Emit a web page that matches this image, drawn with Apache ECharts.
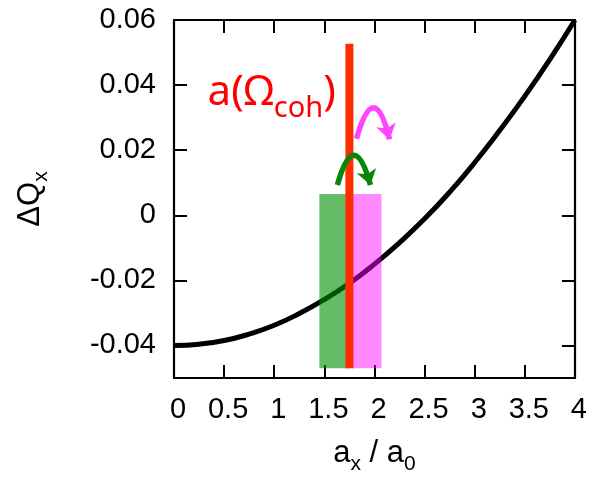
<!DOCTYPE html>
<html><head><meta charset="utf-8">
<script src="https://cdn.jsdelivr.net/npm/echarts@6/dist/echarts.min.js"></script>
<style>html,body{margin:0;padding:0;background:#fff}#c{width:590px;height:480px}</style>
</head><body><div id="c"></div>
<script>
// ---- data ----
const xTicks = [0, 0.5, 1, 1.5, 2, 2.5, 3, 3.5, 4];
const yTicks = [-0.04, -0.02, 0, 0.02, 0.04, 0.06];
const curveX = [0, 0.25, 0.5, 0.75, 1, 1.25, 1.5, 1.75, 2, 2.25, 2.5, 2.75, 3, 3.25, 3.5, 3.75, 4];
const curveY = [-0.0400, -0.0396, -0.0385, -0.0365, -0.0338, -0.0302, -0.0259, -0.0209, -0.0150, -0.0084, -0.0011, 0.0071, 0.0162, 0.0261, 0.0366, 0.0479, 0.0600];
const aCoh = 1.75;
const redLineY = [-0.047, 0.0527];
const greenBand = [1.45, 1.75];
const pinkBand = [1.75, 2.07];
const bandY = [-0.047, 0.0065];
const magentaArrow = [[1.82, 0.0235], [2.15, 0.0233]];
const greenArrow = [[1.63, 0.0093], [1.96, 0.0093]];
const cohLabelAt = [0.33, 0.0375];

const FONT = 'Liberation Sans';
const chart = echarts.init(document.getElementById('c'), null, {renderer: 'canvas'});

const tickStyle = {show: true, inside: true, length: 13, lineStyle: {color: '#000', width: 2}};
const lineStyleAxis = {show: true, onZero: false, lineStyle: {color: '#000', width: 2.2}};
const nameRich = {
  m: {fontSize: 31, lineHeight: 31, fontFamily: FONT, color: '#000', verticalAlign: 'top'},
  s: {fontSize: 21, lineHeight: 21, fontFamily: FONT, color: '#000', verticalAlign: 'top', padding: [16, 0, 0, 0]}
};

const bands = [
  {range: greenBand, color: 'rgba(0,143,0,0.6)'},
  {range: pinkBand, color: 'rgba(255,0,255,0.46)'}
];

chart.setOption({
  animation: false,
  backgroundColor: '#fff',
  grid: {left: 174, right: 12, top: 20, bottom: 95},
  xAxis: [{
    type: 'value', min: xTicks[0], max: xTicks[xTicks.length - 1], interval: 0.5, position: 'bottom',
    axisLine: lineStyleAxis, axisTick: tickStyle, splitLine: {show: false},
    axisLabel: {fontSize: 29, fontFamily: FONT, color: '#000', margin: 17, padding: [0, 0, 0, 8]},
    name: '{m|a}{s|x}{m| / a}{s|0}', nameLocation: 'middle', nameGap: 60,
    nameTextStyle: {rich: nameRich}
  }, {
    type: 'value', min: xTicks[0], max: xTicks[xTicks.length - 1], interval: 0.5, position: 'top',
    axisLine: lineStyleAxis, axisTick: tickStyle, splitLine: {show: false}, axisLabel: {show: false}
  }],
  yAxis: [{
    type: 'value', min: -0.05, max: 0.06, interval: 0.01, position: 'left',
    axisLine: lineStyleAxis,
    axisTick: Object.assign({}, tickStyle, {customValues: yTicks}),
    splitLine: {show: false},
    axisLabel: {fontSize: 29, fontFamily: FONT, color: '#000', margin: 18, customValues: yTicks,
      formatter: v => String(+v.toFixed(2))},
    name: '{m|ΔQ}{s|x}', nameLocation: 'middle', nameGap: 128,
    nameTextStyle: {rich: nameRich}
  }, {
    type: 'value', min: -0.05, max: 0.06, interval: 0.01, position: 'right',
    axisLine: lineStyleAxis,
    axisTick: Object.assign({}, tickStyle, {customValues: yTicks}),
    splitLine: {show: false}, axisLabel: {show: false}
  }],
  series: [
    {
      type: 'line', z: 1, smooth: true, showSymbol: false, symbol: 'none', silent: true,
      data: curveX.map((x, i) => [x, curveY[i]]),
      lineStyle: {color: '#000', width: 5}
    },
    {
      type: 'custom', z: 2, silent: true,
      data: bands.map(b => [b.range[0], b.range[1], bandY[0], bandY[1]]),
      encode: {x: [0, 1], y: [2, 3]},
      renderItem: (params, api) => {
        const p0 = api.coord([api.value(0), api.value(3)]);
        const p1 = api.coord([api.value(1), api.value(2)]);
        return {type: 'rect', shape: {x: p0[0], y: p0[1], width: p1[0] - p0[0], height: p1[1] - p0[1]},
          style: {fill: bands[params.dataIndex].color}};
      }
    },
    {
      type: 'line', z: 3, showSymbol: false, symbol: 'none', silent: true,
      data: redLineY.map(y => [aCoh, y]),
      lineStyle: {color: '#ff2d00', width: 8, cap: 'butt'}
    },
    {
      type: 'lines', coordinateSystem: 'cartesian2d', z: 4, silent: true,
      symbol: ['none', 'arrow'], symbolSize: 15,
      lineStyle: {color: '#ff44ff', width: 5.5, curveness: 1.9, opacity: 1},
      data: [{coords: magentaArrow}]
    },
    {
      type: 'lines', coordinateSystem: 'cartesian2d', z: 4, silent: true,
      symbol: ['none', 'arrow'], symbolSize: 15,
      lineStyle: {color: '#0a870a', width: 5.5, curveness: 1.8, opacity: 1},
      data: [{coords: greenArrow}]
    },
    {
      type: 'scatter', z: 5, silent: true, symbolSize: 1,
      itemStyle: {color: 'rgba(0,0,0,0)', opacity: 1},
      data: [cohLabelAt],
      label: {
        show: true, position: 'right', distance: 0, opacity: 1,
        formatter: '{m|a(Ω}{s|coh}{m|)}',
        rich: {
          m: {fontSize: 42, lineHeight: 42, fontFamily: 'Noto Sans', color: '#ff0000', verticalAlign: 'top'},
          s: {fontSize: 29, lineHeight: 29, fontFamily: 'Noto Sans', color: '#ff0000', verticalAlign: 'top', padding: [22, 0, 0, 0]}
        }
      }
    }
  ]
});
</script>
</body></html>
